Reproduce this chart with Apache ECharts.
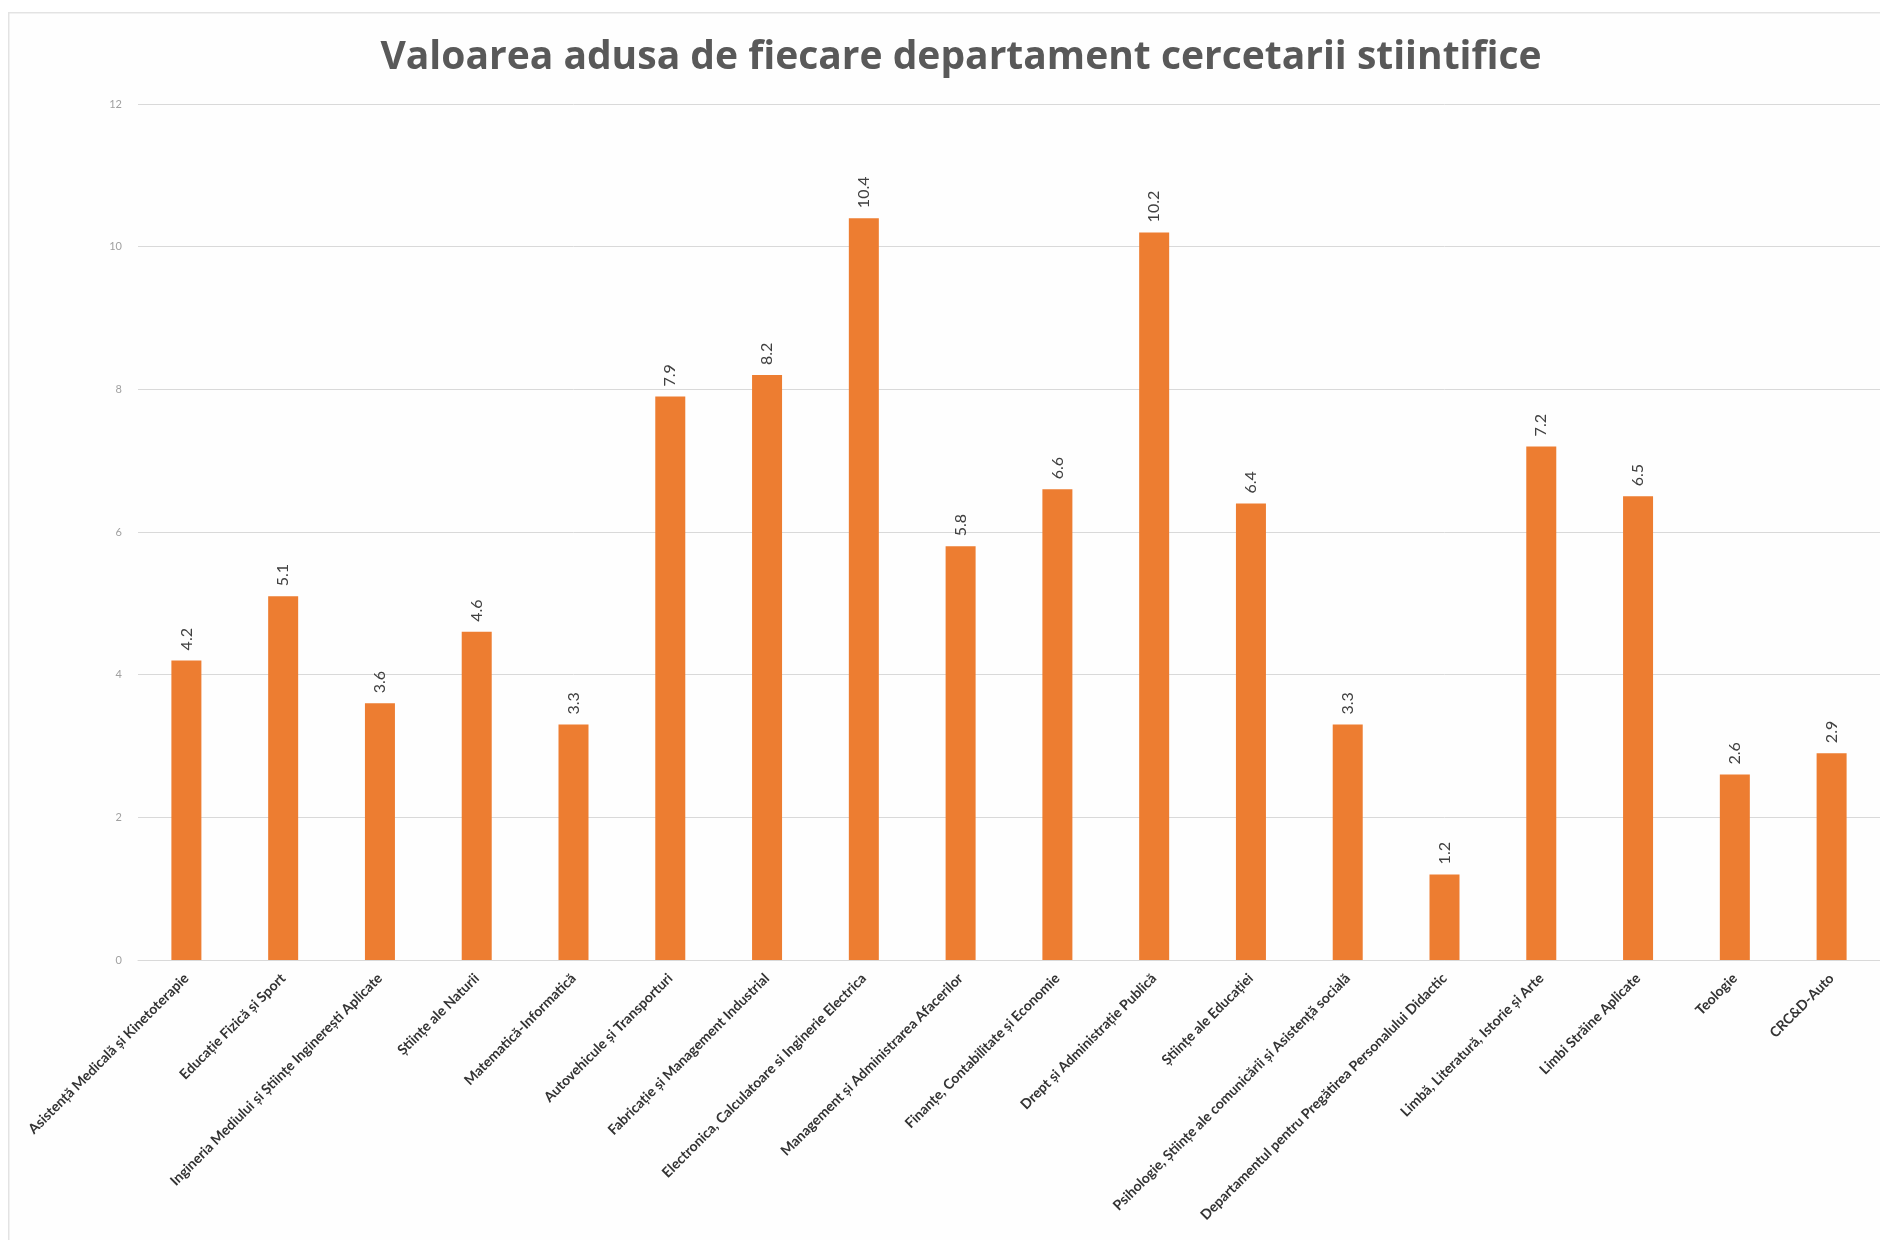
<!DOCTYPE html>
<html>
<head>
<meta charset="utf-8">
<script src="https://cdn.jsdelivr.net/npm/echarts@6/dist/echarts.min.js"></script>
<style>
html,body{margin:0;padding:0;background:#ffffff;}
#chart{width:1880px;height:1240px;}
</style>
</head>
<body>
<div id="chart"></div>
<script>
const titleText = 'Valoarea adusa de fiecare departament cercetarii stiintifice';
const categories = [
  'Asistență Medicală și Kinetoterapie',
  'Educație Fizică și Sport',
  'Ingineria Mediului și Științe Inginerești Aplicate',
  'Științe ale Naturii',
  'Matematică-Informatică',
  'Autovehicule și Transporturi',
  'Fabricație și Management Industrial',
  'Electronica, Calculatoare si Inginerie Electrica',
  'Management și Administrarea Afacerilor',
  'Finanțe, Contabilitate și Economie',
  'Drept și Administrație Publică',
  'Științe ale Educației',
  'Psihologie, Științe ale comunicării și Asistență socială',
  'Departamentul pentru Pregătirea Personalului Didactic',
  'Limbă, Literatură, Istorie și Arte',
  'Limbi Străine Aplicate',
  'Teologie',
  'CRC&D-Auto'
];
const values = [4.2, 5.1, 3.6, 4.6, 3.3, 7.9, 8.2, 10.4, 5.8, 6.6, 10.2, 6.4, 3.3, 1.2, 7.2, 6.5, 2.6, 2.9];
const yTicks = [0, 2, 4, 6, 8, 10, 12];

const chart = echarts.init(document.getElementById('chart'), null, {renderer: 'canvas'});
chart.setOption({
  backgroundColor: '#ffffff',
  animation: false,
  graphic: [{
    type: 'rect',
    left: 8, top: 12,
    shape: {width: 1900, height: 1260},
    style: {fill: '#fefefe', stroke: '#e3e3e3', lineWidth: 1.5},
    z: -10
  }],
  title: {
    text: titleText,
    left: 956,
    top: 33,
    textAlign: 'center',
    textStyle: {fontFamily: 'Open Sans', fontWeight: 'bold', fontSize: 39, color: '#595959'}
  },
  grid: {left: 138, right: 0, top: 104, bottom: 280, containLabel: false},
  xAxis: {
    type: 'category',
    data: categories,
    axisLine: {show: true, lineStyle: {color: '#d9d9d9', width: 1}},
    axisTick: {show: false},
    axisLabel: {
      interval: 0, rotate: 45, margin: 16,
      fontFamily: 'Lato', fontWeight: 'bold', fontSize: 14, color: '#333333'
    }
  },
  yAxis: {
    type: 'value',
    min: yTicks[0], max: yTicks[yTicks.length - 1], interval: 2,
    axisLine: {show: false},
    axisTick: {show: false},
    splitLine: {lineStyle: {color: '#d9d9d9', width: 1}},
    axisLabel: {margin: 16, fontFamily: 'Lato', fontSize: 11, color: '#a0a0a0'}
  },
  series: [{
    type: 'bar',
    data: values,
    barWidth: '31%',
    itemStyle: {color: '#ED7D31'},
    label: {
      show: true, position: 'top', rotate: 90, align: 'left', verticalAlign: 'middle',
      distance: 10, fontFamily: 'Lato', fontSize: 16, color: '#404040',
      formatter: p => p.value.toFixed(1)
    }
  }]
});
</script>
</body>
</html>
